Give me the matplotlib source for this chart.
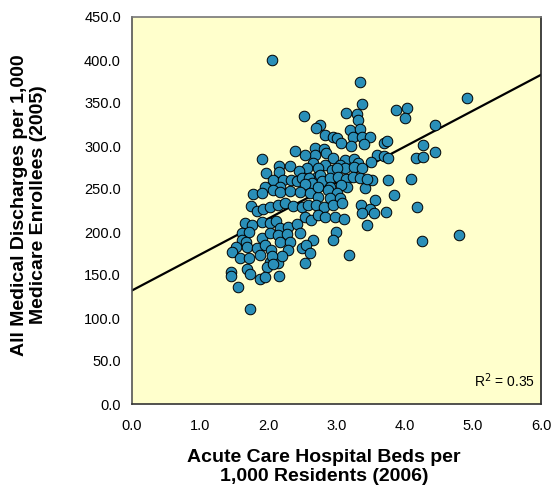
import matplotlib
matplotlib.use("Agg")
import matplotlib.pyplot as plt
import numpy as np

# Acute care hospital beds per 1,000 residents (2006)
beds = [
    2.06, 3.35, 4.92, 4.44, 3.88, 4.03, 4.00, 3.37, 3.14, 3.30, 3.32, 2.53,
    4.27, 4.44, 4.17, 4.27, 4.10, 3.76, 3.84, 4.18, 4.80, 4.26, 3.72, 3.56,
    3.45, 3.18, 3.70, 3.74, 3.52, 3.42, 3.36, 3.49, 3.55, 3.60, 3.69, 3.76,
    3.50,
    2.76, 2.70, 2.83, 2.95, 3.00, 3.07, 3.20, 3.35, 3.24, 3.37, 3.49, 3.41,
    3.22, 2.68, 2.81, 2.85, 2.69, 2.54, 2.95, 3.12, 3.26, 3.32, 2.83, 2.66,
    2.56, 2.73, 2.93, 3.05, 3.12, 3.25, 3.37, 2.39, 1.91, 2.16, 2.32, 1.96,
    2.45, 3.00, 2.16, 2.71,
    2.07, 2.22, 2.33, 2.42, 2.49, 2.60, 2.64, 2.76, 2.79, 2.90, 3.02, 3.14,
    3.24, 3.34, 3.45, 2.54, 1.95, 2.17, 2.90, 3.15, 3.07,
    1.77, 1.91, 2.07, 2.17, 2.32, 2.46, 2.61, 2.73, 2.73, 2.88, 3.01, 2.90,
    3.05,
    1.75, 1.83, 1.92, 2.02, 2.14, 2.24, 2.36, 2.49, 2.58, 2.70, 2.82, 2.95,
    3.08, 2.54, 2.63, 2.73, 2.83, 2.98, 3.11, 3.38,
    1.66, 1.76, 1.91, 2.02, 2.11, 2.17, 2.29, 2.42, 1.61, 1.72, 1.91, 2.02,
    2.14, 2.27, 2.46, 2.66, 2.99, 2.95,
    1.61, 1.67, 1.69, 1.53, 1.47, 1.83, 1.95, 2.04, 2.17, 2.32, 2.49, 2.55,
    2.61, 1.58, 1.72, 1.88, 2.02, 2.14, 2.29, 2.20, 2.54, 2.05,
    1.45, 1.45, 1.69, 1.73, 1.98, 2.07, 1.88, 1.95, 2.16, 1.55, 1.73,
]

# All medical discharges per 1,000 Medicare enrollees (2005)
discharges = [
    400.0, 374.4, 355.5, 324.4, 341.9, 343.8, 332.9, 348.5, 338.7, 337.2, 330.2, 335.2,
    301.5, 293.4, 285.7, 287.6, 261.3, 260.1, 243.4, 228.7, 196.9, 189.2, 223.6, 237.6,
    208.5, 172.9, 303.8, 305.5, 260.8, 250.8, 231.4, 227.1, 222.4, 289.5, 288.4, 286.0,
    281.4,
    324.1, 320.6, 312.8, 310.8, 309.3, 303.8, 318.6, 319.5, 310.5, 310.8, 310.2, 302.3,
    300.0, 297.7, 296.5, 291.3, 290.1, 289.0, 286.0, 284.3, 284.9, 280.8, 277.9, 280.6,
    274.1, 274.1, 272.1, 277.9, 274.1, 275.9, 274.1, 294.2, 285.2, 276.7, 276.2, 268.3,
    270.9, 274.1, 270.1, 264.3,
    260.5, 259.9, 261.0, 259.3, 262.8, 262.8, 257.0, 266.3, 259.3, 262.8, 264.0, 262.2,
    264.0, 262.8, 262.2, 255.8, 252.3, 252.3, 252.3, 252.9, 254.7,
    244.2, 245.3, 248.8, 246.5, 247.7, 246.5, 245.3, 240.7, 252.3, 248.8, 245.3, 239.5,
    239.5,
    230.2, 224.4, 226.7, 229.1, 231.4, 233.7, 230.2, 229.1, 231.4, 231.4, 229.1, 231.4,
    233.7, 217.4, 214.0, 219.8, 217.4, 217.4, 215.1, 222.1,
    210.5, 208.1, 211.6, 210.5, 212.8, 204.7, 205.8, 209.3, 198.8, 200.0, 193.0, 198.8,
    196.5, 197.7, 198.8, 190.7, 200.0, 190.7,
    190.7, 188.4, 182.6, 182.6, 176.7, 181.4, 184.9, 179.1, 188.4, 188.4, 181.4, 184.9,
    175.6, 169.8, 169.8, 173.3, 165.1, 164.0, 179.1, 172.1, 164.0, 172.1,
    153.5, 148.8, 157.0, 151.2, 159.3, 162.8, 145.3, 147.7, 148.8, 136.0, 110.5,
]

# Linear trend line
trend_intercept = 132.0
trend_slope = 41.8
r_squared_label = "R$^2$ = 0.35"

x_ticks = [0.0, 1.0, 2.0, 3.0, 4.0, 5.0, 6.0]
y_ticks = [0, 50, 100, 150, 200, 250, 300, 350, 400, 450]

x_title = "Acute Care Hospital Beds per\n1,000 Residents (2006)"
y_title = "All Medical Discharges per 1,000\nMedicare Enrollees (2005)"

plt.rcParams['font.family'] = ['Liberation Sans', 'DejaVu Sans']

fig = plt.figure(figsize=(5.54, 4.91), dpi=100)
fig.patch.set_facecolor('white')
ax = fig.add_axes([132/554, 1 - 404/491, (541-132)/554, (404-17)/491])
ax.set_facecolor('#FFFFCC')

xs = np.array([0.0, 6.0])
ax.plot(xs, trend_intercept + trend_slope * xs, color='black', lw=1.6, zorder=2)

ax.scatter(beds, discharges, s=58, facecolor='#2A8FB8', edgecolor='black',
           linewidths=0.7, zorder=3)

ax.set_xlim(0, 6)
ax.set_ylim(0, 450)
ax.set_xticks(x_ticks)
ax.set_xticklabels([f"{v:.1f}" for v in x_ticks])
ax.set_yticks(y_ticks)
ax.set_yticklabels([f"{v:.1f}" for v in y_ticks])
ax.tick_params(axis='both', length=0, labelsize=10.5)
ax.tick_params(axis='x', pad=11)
ax.tick_params(axis='y', pad=8)

for side, col in [('left', '#555555'), ('top', '#777777'),
                  ('right', '#222222'), ('bottom', '#333333')]:
    ax.spines[side].set_color(col)
    ax.spines[side].set_linewidth(1.2)

ax.text(0.985, 0.035, r_squared_label, transform=ax.transAxes,
        ha='right', va='bottom', fontsize=10)

fig.text(324/554, 1 - 467/491, x_title, ha='center', va='center',
         fontsize=14, fontweight='bold', linespacing=1.2)
fig.text(29/554, 1 - 205/491, y_title, ha='center', va='center',
         rotation=90, fontsize=14, fontweight='bold', linespacing=1.2)

fig.savefig('out.png', dpi=100)
